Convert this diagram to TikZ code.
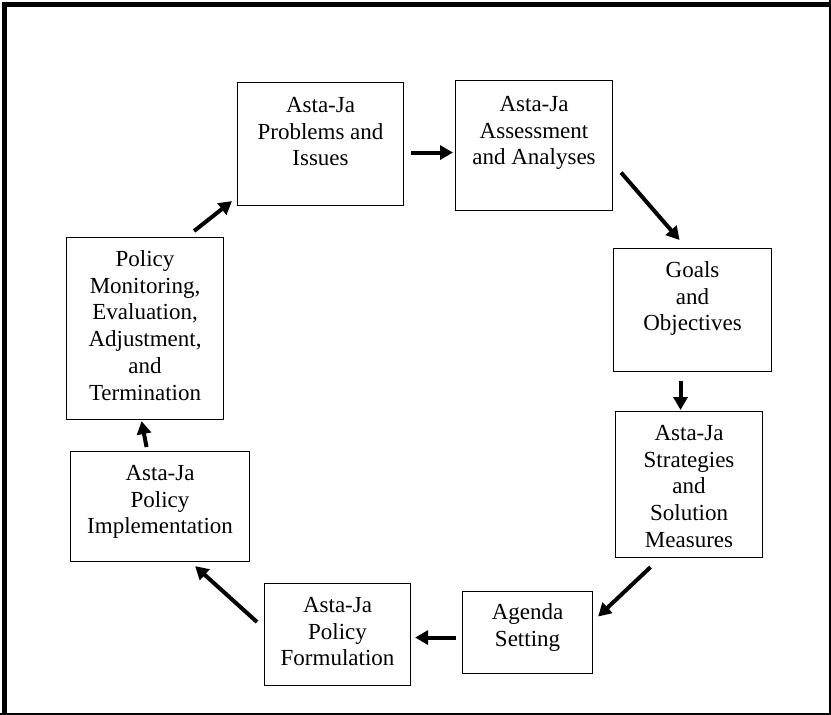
\documentclass[tikz,border=0pt]{standalone}
\usepackage{fontspec}
\setmainfont{Liberation Serif}
\usetikzlibrary{arrows.meta,calc}
\newcommand{\stagefont}{\fontsize{23}{26.7}\selectfont}
\tikzset{
  >={Triangle[length=13pt,width=14pt]},
  stage/.style={draw,line width=1.1pt,align=center,inner sep=0pt,anchor=north west,
    font=\stagefont},
  flow/.style={->,line width=4pt},
}

\begin{document}
\begin{tikzpicture}[x=1pt,y=-1pt]
  \useasboundingbox (0,0) rectangle (831,715);
  % outer frame
  \draw[line width=5pt] (4.5,715) -- (4.5,4.5) -- (831,4.5);
  \draw[line width=5pt] (0,715) -- (831,715);
  \draw[line width=1.5pt] (830,0) -- (830,715);
  % stages
  \node[stage,minimum width=166pt,text height=83.4pt,text depth=39.6pt] (prob) at (237,82) {Asta-Ja\\Problems and\\Issues};
  \node[stage,minimum width=157pt,text height=84.4pt,text depth=45.6pt] (assess) at (455,80) {Asta-Ja\\Assessment\\and Analyses};
  \node[stage,minimum width=158pt,text height=82.4pt,text depth=40.6pt] (goals) at (613,248) {Goals\\and\\Objectives};
  \node[stage,minimum width=147pt,text height=135.8pt,text depth=10.2pt] (strat) at (615,411) {Asta-Ja\\Strategies\\and\\Solution\\Measures};
  \node[stage,minimum width=130pt,text height=54.7pt,text depth=27.3pt] (agenda) at (462,591) {Agenda\\Setting};
  \node[stage,minimum width=146pt,text height=82.4pt,text depth=19.6pt] (form) at (264,583) {Asta-Ja\\Policy\\Formulation};
  \node[stage,minimum width=179pt,text height=82.4pt,text depth=27.6pt] (impl) at (70,451) {Asta-Ja\\Policy\\Implementation};
  \node[stage,minimum width=157pt,text height=162.5pt,text depth=19.5pt] (monit) at (66,237) {Policy\\Monitoring,\\Evaluation,\\Adjustment,\\and\\Termination};
  % cycle arrows
  \draw[flow] ($(prob.east)+(7,8.5)$) -- ($(assess.west)+(-2,7)$);
  \draw[flow] ($(assess.east)+(8,27)$) -- ($(goals.north)+(-13,-8)$);
  \draw[flow] ($(goals.south)+(-12,9)$) -- ($(strat.north)+(-8.5,-1)$);
  \draw[flow] ($(strat.south)+(-38.5,9)$) -- ($(agenda.east)+(5,-16)$);
  \draw[flow] ($(agenda.west)+(-6,5)$) -- ($(form.east)+(4,3)$);
  \draw[flow] ($(form.north west)+(-7,39)$) -- ($(impl.south east)+(-55,4)$);
  \draw[flow] ($(impl.north)+(-13.5,-4)$) -- ($(monit.south)+(-3.5,1)$);
  \draw[flow] ($(monit.north east)+(-30,-6)$) -- ($(prob.south west)+(-5,-5)$);
\end{tikzpicture}
\end{document}
